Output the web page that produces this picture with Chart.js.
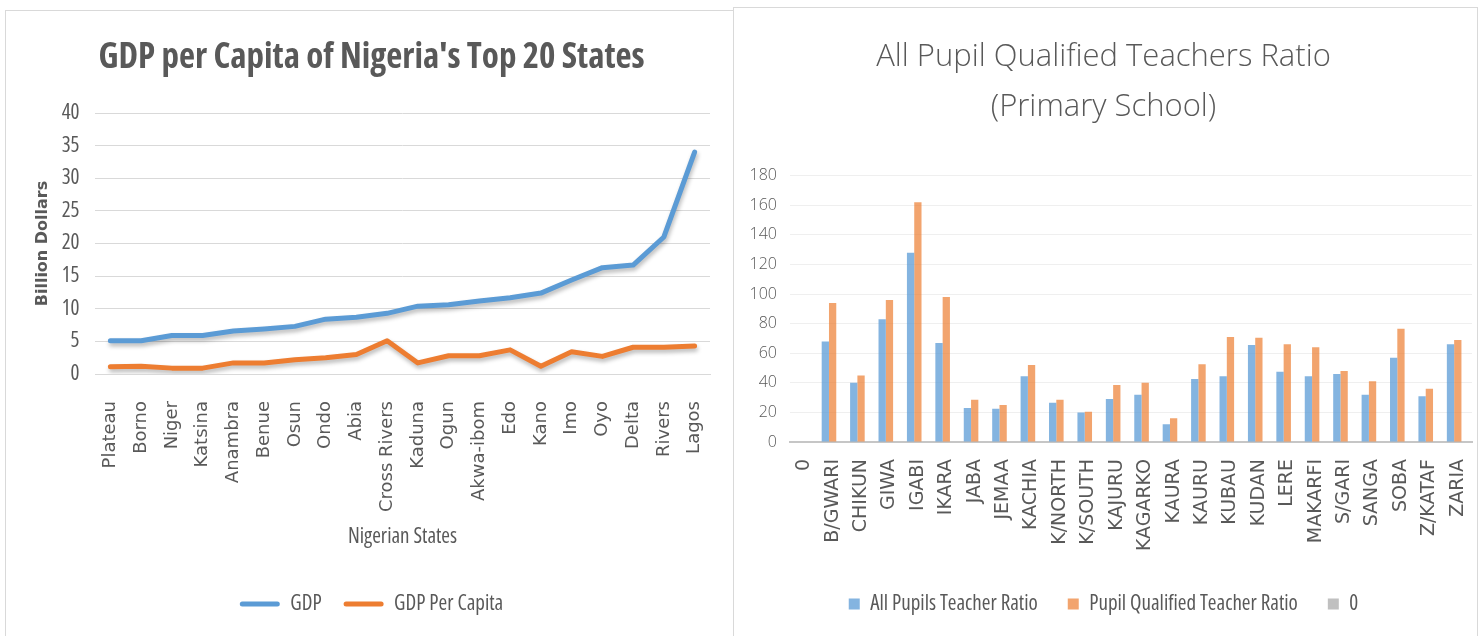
<!DOCTYPE html>
<html>
<head>
<meta charset="utf-8">
<script src="https://cdn.jsdelivr.net/npm/chart.js@4.4.1/dist/chart.umd.min.js"></script>
<style>
  html, body { margin: 0; padding: 0; background: #fff; width: 1480px; height: 636px; overflow: hidden; }
  .frame { position: absolute; border: 1px solid #d9d9d9; box-sizing: border-box; }
  .box { position: absolute; }
</style>
</head>
<body>
<div class="frame" style="left:5px; top:10px; width:729px; height:640px;"></div>
<div class="frame" style="left:733px; top:7px; width:745px; height:640px;"></div>
<div class="box" style="left:6px; top:11px; width:726px; height:625px;"><canvas id="gdp"></canvas></div>
<div class="box" style="left:734px; top:8px; width:742px; height:628px;"><canvas id="ptr"></canvas></div>
<script>
// ---------- Data: left chart ----------
const gdpStates = ["Plateau", "Borno", "Niger", "Katsina", "Anambra", "Benue", "Osun", "Ondo", "Abia", "Cross Rivers",
                   "Kaduna", "Ogun", "Akwa-ibom", "Edo", "Kano", "Imo", "Oyo", "Delta", "Rivers", "Lagos"];
const gdpValues = [5.1, 5.1, 5.9, 5.9, 6.6, 6.9, 7.3, 8.4, 8.7, 9.3, 10.4, 10.6, 11.2, 11.7, 12.4, 14.4, 16.3, 16.7, 21.0, 34.0];
const gdpPerCapitaValues = [1.1, 1.2, 0.9, 0.9, 1.7, 1.7, 2.2, 2.5, 3.0, 5.1, 1.7, 2.8, 2.8, 3.7, 1.2, 3.4, 2.7, 4.1, 4.1, 4.3];
const gdpSeriesNames = ["GDP", "GDP Per Capita"];

// ---------- Data: right chart ----------
const lgaNames = ["0", "B/GWARI", "CHIKUN", "GIWA", "IGABI", "IKARA", "JABA", "JEMAA", "KACHIA", "K/NORTH", "K/SOUTH",
                  "KAJURU", "KAGARKO", "KAURA", "KAURU", "KUBAU", "KUDAN", "LERE", "MAKARFI", "S/GARI", "SANGA",
                  "SOBA", "Z/KATAF", "ZARIA"];
const allPupilsTeacherRatio = [0, 68, 40, 83, 128, 67, 23, 22.5, 44.5, 26.5, 20, 29, 32, 12, 42.5, 44.5, 65.5, 47.5, 44.5, 46, 32, 57, 31, 66];
const pupilQualifiedTeacherRatio = [0, 94, 45, 96, 162, 98, 28.5, 25, 52, 28.5, 20.5, 38.5, 40, 16, 52.5, 71, 70.5, 66, 64, 48, 41, 76.5, 36, 69];
const zeroSeries = [0, 0, 0, 0, 0, 0, 0, 0, 0, 0, 0, 0, 0, 0, 0, 0, 0, 0, 0, 0, 0, 0, 0, 0];
const ptrSeriesNames = ["All Pupils Teacher Ratio", "Pupil Qualified Teacher Ratio", "0"];

const OPEN = "'Open Sans', 'Liberation Sans', sans-serif";
const DEJA = "'DejaVu Sans', sans-serif";
const GREY = '#595959';
Chart.defaults.font.family = OPEN;
Chart.defaults.color = GREY;

const shadowPlugin = {
  id: 'lineShadow',
  beforeDatasetsDraw(chart) {
    const c = chart.ctx;
    c.save();
    c.shadowColor = 'rgba(0,0,0,0.28)';
    c.shadowBlur = 4;
    c.shadowOffsetX = 1;
    c.shadowOffsetY = 3;
  },
  afterDatasetsDraw(chart) { chart.ctx.restore(); }
};

new Chart(document.getElementById('gdp'), {
  type: 'line',
  data: {
    labels: gdpStates,
    datasets: [
      { label: gdpSeriesNames[0], data: gdpValues, borderColor: '#5B9BD5', backgroundColor: '#5B9BD5',
        borderWidth: 5, pointRadius: 0, tension: 0, borderJoinStyle: 'round', borderCapStyle: 'round' },
      { label: gdpSeriesNames[1], data: gdpPerCapitaValues, borderColor: '#ED7D31', backgroundColor: '#ED7D31',
        borderWidth: 5, pointRadius: 0, tension: 0, borderJoinStyle: 'round', borderCapStyle: 'round' }
    ]
  },
  plugins: [shadowPlugin],
  options: {
    responsive: true, maintainAspectRatio: false, animation: false,
    layout: { padding: { left: 27, right: 22, top: 0, bottom: 11.5 } },
    plugins: {
      title: { display: true, text: "GDP per Capita of Nigeria's Top 20 States", color: GREY,
               font: { size: 35, weight: 'bold condensed', family: OPEN, lineHeight: 1.2 },
               padding: { top: 26, bottom: 34 } },
      legend: { position: 'bottom', align: 'center',
        labels: { font: { size: 21, weight: 'condensed', family: OPEN }, color: GREY, boxWidth: 40, boxHeight: 5, padding: 22,
          useBorderRadius: true, borderRadius: 2.5,
          generateLabels(chart) {
            return chart.data.datasets.map((d, i) => ({ text: d.label, fillStyle: d.borderColor, strokeStyle: d.borderColor,
              lineWidth: 0, hidden: false, datasetIndex: i, fontColor: GREY, borderRadius: 2.5 }));
          } } },
      tooltip: { enabled: false }
    },
    scales: {
      x: { offset: true,
        grid: { display: false },
        border: { display: true, color: '#d9d9d9', width: 1 },
        ticks: { autoSkip: false, maxRotation: 90, minRotation: 90, padding: 19,
                 font: { size: 18, family: DEJA }, color: GREY },
        title: { display: true, text: 'Nigerian States', color: GREY, font: { size: 21, weight: 'condensed', family: OPEN },
                 padding: { top: 0, bottom: 21.9 } },
        afterFit(s) { s.height = 197.5; s.paddingLeft = 0; s.paddingRight = 0; } },
      y: { min: 0, max: 40,
        grid: { color: '#d9d9d9', drawTicks: false },
        border: { display: false },
        ticks: { stepSize: 5, padding: 15.5, font: { size: 21, weight: 'condensed', family: OPEN }, color: GREY },
        title: { display: true, text: 'Billion Dollars', color: GREY,
                 font: { size: 16, weight: 'bold', family: DEJA }, padding: { top: 0, bottom: 0 } },
        afterFit(s) { s.width = 62; s.paddingTop = 0; s.paddingBottom = 0; } }
    }
  }
});

new Chart(document.getElementById('ptr'), {
  type: 'bar',
  data: {
    labels: lgaNames,
    datasets: [
      { label: ptrSeriesNames[0], data: allPupilsTeacherRatio, backgroundColor: 'rgba(91,155,213,0.75)', borderWidth: 0 },
      { label: ptrSeriesNames[1], data: pupilQualifiedTeacherRatio, backgroundColor: 'rgba(237,125,49,0.7)', borderWidth: 0 },
      { label: ptrSeriesNames[2], data: zeroSeries, backgroundColor: 'rgba(165,165,165,0.7)', borderWidth: 0 }
    ]
  },
  options: {
    responsive: true, maintainAspectRatio: false, animation: false,
    datasets: { bar: { categoryPercentage: 0.77, barPercentage: 1 } },
    layout: { padding: { left: 1, right: 4, top: 0, bottom: 11.5 } },
    plugins: {
      title: { display: true, text: ['All Pupil Qualified Teachers Ratio', '(Primary School)'], color: GREY,
               font: { size: 31, weight: '300', family: OPEN, lineHeight: 50 / 31 },
               padding: { top: 24, bottom: 43.7 } },
      legend: { position: 'bottom', align: 'center',
        labels: { font: { size: 21, weight: 'condensed', family: OPEN }, color: GREY, boxWidth: 11, boxHeight: 11, padding: 30 } },
      tooltip: { enabled: false }
    },
    scales: {
      x: { grid: { display: false },
        border: { display: true, color: '#c6c6c6', width: 2 },
        ticks: { autoSkip: false, maxRotation: 90, minRotation: 90, padding: 9,
                 font: { size: 19, family: DEJA }, color: GREY },
        afterFit(s) { s.height = 121.5; s.paddingLeft = 0; s.paddingRight = 0; } },
      y: { min: 0, max: 180,
        grid: { color: (c) => c.tick && c.tick.value === 0 ? 'rgba(0,0,0,0)' : '#efefef', drawTicks: false },
        border: { display: false },
        ticks: { stepSize: 20, padding: 13, font: { size: 16, weight: '300', family: OPEN }, color: GREY },
        afterFit(s) { s.width = 55; s.paddingTop = 0; s.paddingBottom = 0; } }
    }
  }
});
</script>
</body>
</html>
